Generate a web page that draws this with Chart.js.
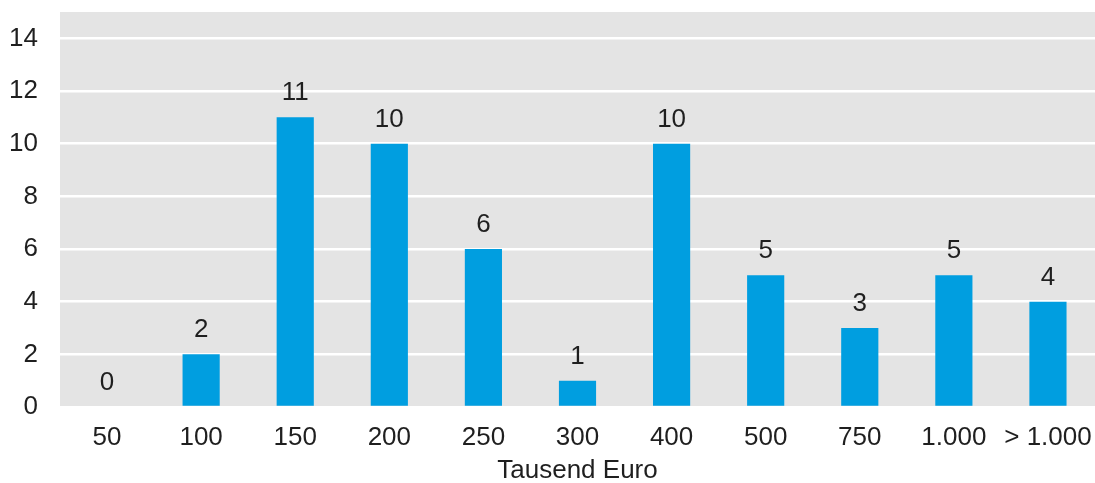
<!DOCTYPE html>
<html>
<head>
<meta charset="utf-8">
<script src="https://cdn.jsdelivr.net/npm/chart.js@4/dist/chart.umd.min.js"></script>
<style>
  html, body { margin: 0; padding: 0; background: #ffffff; }
  #wrap { width: 1095px; height: 483px; }
</style>
</head>
<body>
<div id="wrap"><canvas id="c" width="1095" height="483"></canvas></div>
<script>
// Size classes (thousand euro) and number of cases per class
const categories = ['50', '100', '150', '200', '250', '300', '400', '500', '750', '1.000', '> 1.000'];
const counts = [0, 2, 11, 10, 6, 1, 10, 5, 3, 5, 4];
const yTicks = [0, 2, 4, 6, 8, 10, 12, 14];
const xTitle = 'Tausend Euro';

const TEXT = '#1f1f1f';
const FONT = { family: '"Liberation Sans", Arial, sans-serif', size: 26 };

// Grey plot background behind the gridlines
const plotBackground = {
  id: 'plotBackground',
  beforeDraw(chart) {
    const { ctx, chartArea: a } = chart;
    ctx.save();
    ctx.fillStyle = '#e4e4e4';
    ctx.fillRect(a.left, a.top, a.right - a.left, a.bottom - a.top);
    ctx.restore();
  }
};

// Value labels above each bar
const valueLabels = {
  id: 'valueLabels',
  afterDatasetsDraw(chart) {
    const { ctx } = chart;
    const meta = chart.getDatasetMeta(0);
    ctx.save();
    ctx.font = FONT.size + 'px ' + FONT.family;
    ctx.fillStyle = TEXT;
    ctx.textAlign = 'center';
    ctx.textBaseline = 'alphabetic';
    meta.data.forEach((bar, i) => {
      ctx.fillText(String(counts[i]), bar.x, bar.y - 17);
    });
    ctx.restore();
  }
};

new Chart(document.getElementById('c'), {
  type: 'bar',
  data: {
    labels: categories,
    datasets: [{
      data: counts,
      backgroundColor: '#009ee0',
      borderWidth: 0,
      barPercentage: 0.395,
      categoryPercentage: 1.0
    }]
  },
  options: {
    responsive: false,
    animation: false,
    layout: { padding: { top: 12, right: 0, left: 0, bottom: 0 } },
    plugins: {
      legend: { display: false },
      tooltip: { enabled: false }
    },
    scales: {
      x: {
        afterFit(scale) {
          scale.height = 76;
          scale.paddingLeft = 0;
          scale.paddingRight = 0;
        },
        grid: { display: false, drawTicks: false },
        border: { display: false },
        ticks: { color: TEXT, font: FONT, padding: 15, maxRotation: 0, autoSkip: false },
        title: { display: true, text: xTitle, color: TEXT, font: FONT, padding: { top: 0, bottom: -3 } }
      },
      y: {
        min: 0,
        max: 15,
        afterBuildTicks(scale) {
          scale.ticks = yTicks.map(v => ({ value: v }));
        },
        afterFit(scale) {
          scale.width = 60;
          scale.paddingTop = 0;
          scale.paddingBottom = 0;
        },
        grid: { color: '#ffffff', lineWidth: 2.5, drawTicks: false },
        border: { display: false },
        ticks: { color: TEXT, font: FONT, padding: 22 }
      }
    }
  },
  plugins: [plotBackground, valueLabels]
});
</script>
</body>
</html>
